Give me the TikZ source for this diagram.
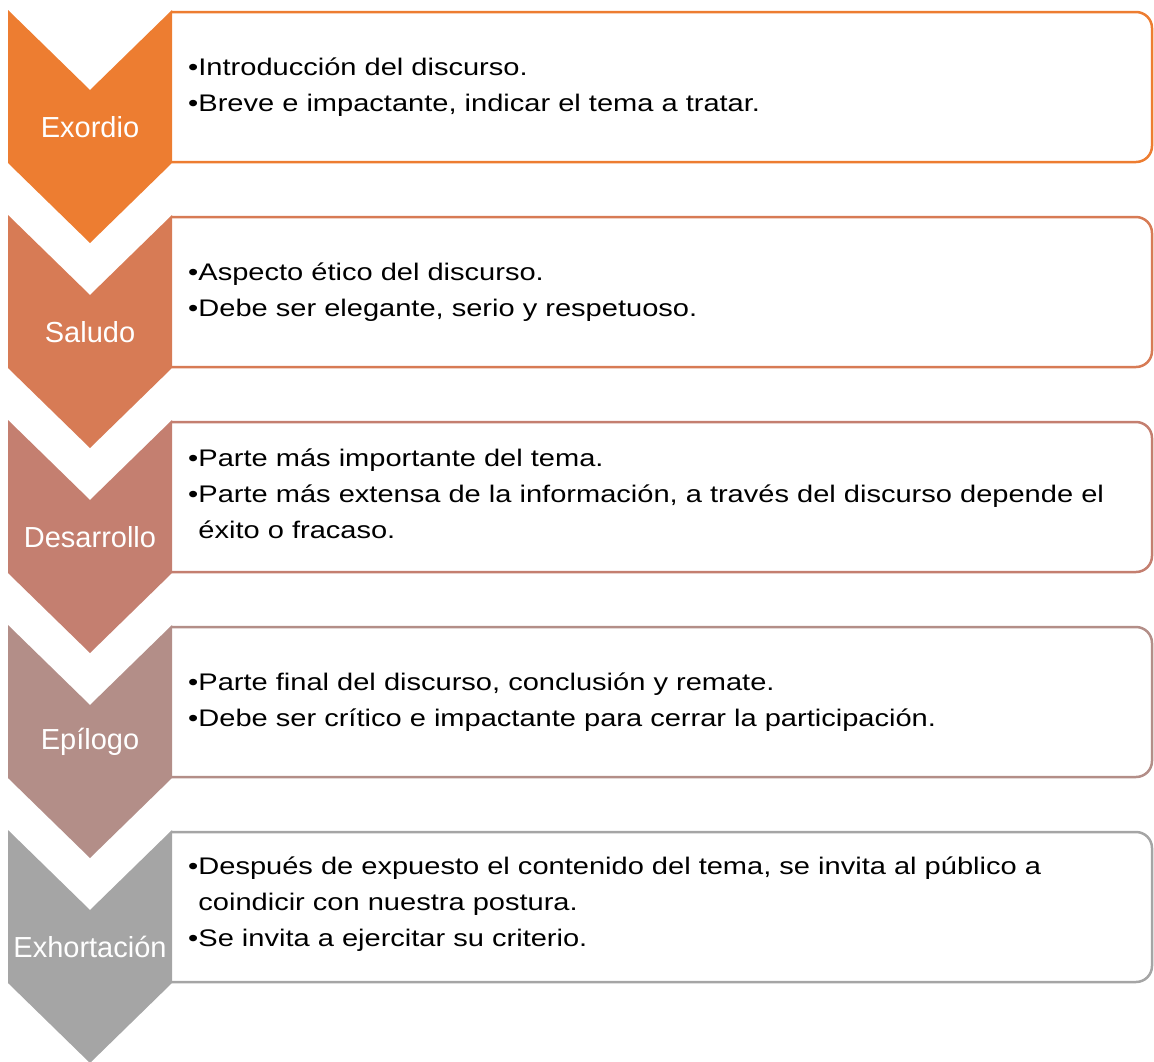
\documentclass[tikz,border=0pt]{standalone}
\usepackage{fontspec}
\setmainfont{Liberation Sans}

\definecolor{paso1}{HTML}{ED7D31}
\definecolor{paso2}{HTML}{D77B55}
\definecolor{paso3}{HTML}{C47F70}
\definecolor{paso4}{HTML}{B38E88}
\definecolor{paso5}{HTML}{A5A5A5}

\tikzstyle{caja} = [line width=2.5pt, rounded corners=16pt]
\tikzstyle{etiqueta} = [text=white, inner sep=0pt, font=\fontsize{29}{34}\selectfont]
\tikzstyle{texto} = [anchor=west, align=left, inner sep=0pt, xscale=1.21, font=\fontsize{24}{36}\selectfont]

\begin{document}
\begin{tikzpicture}[x=1pt, y=-1pt]
%\draw[step=50, very thin,black!20] (0,0) grid (1154,1061);
\path[use as bounding box] (0,0) rectangle (1154,1061);

% Exordio
\draw[caja, draw=paso1] (172,12) -- (1152,12) -- (1152,162) -- (172,162);
\fill[paso1] (8,10) -- (90,90) -- (172,10) -- (172,163) -- (90,243) -- (8,163) -- cycle;
\node[etiqueta] (exordio) at (90,127) {Exordio};
\node[texto] (texto1) at (188,87) {•Introducción del discurso.\\•Breve e impactante, indicar el tema a tratar.};

% Saludo
\draw[caja, draw=paso2] (172,217) -- (1152,217) -- (1152,367) -- (172,367);
\fill[paso2] (8,215) -- (90,295) -- (172,215) -- (172,368) -- (90,448) -- (8,368) -- cycle;
\node[etiqueta] (saludo) at (90,332) {Saludo};
\node[texto] (texto2) at (188,292) {•Aspecto ético del discurso.\\•Debe ser elegante, serio y respetuoso.};

% Desarrollo
\draw[caja, draw=paso3] (172,422) -- (1152,422) -- (1152,572) -- (172,572);
\fill[paso3] (8,420) -- (90,500) -- (172,420) -- (172,573) -- (90,653) -- (8,573) -- cycle;
\node[etiqueta] (desarrollo) at (90,537) {Desarrollo};
\node[texto] (texto3) at (188,494) {•Parte más importante del tema.\\•Parte más extensa de la información, a través del discurso depende el\\\phantom{•}éxito o fracaso.};

% Epilogo
\draw[caja, draw=paso4] (172,627) -- (1152,627) -- (1152,777) -- (172,777);
\fill[paso4] (8,625) -- (90,705) -- (172,625) -- (172,778) -- (90,858) -- (8,778) -- cycle;
\node[etiqueta] (epilogo) at (90,742) {Epílogo};
\node[texto] (texto4) at (188,702) {•Parte final del discurso, conclusión y remate.\\•Debe ser crítico e impactante para cerrar la participación.};

% Exhortacion
\draw[caja, draw=paso5] (172,832) -- (1152,832) -- (1152,982) -- (172,982);
\fill[paso5] (8,830) -- (90,910) -- (172,830) -- (172,983) -- (90,1063) -- (8,983) -- cycle;
\node[etiqueta] (exhortacion) at (90,947) {Exhortación};
\node[texto] (texto5) at (188,904) {•Después de expuesto el contenido del tema, se invita al público a\\\phantom{•}coindicir con nuestra postura.\\•Se invita a ejercitar su criterio.};
\end{tikzpicture}
\end{document}
